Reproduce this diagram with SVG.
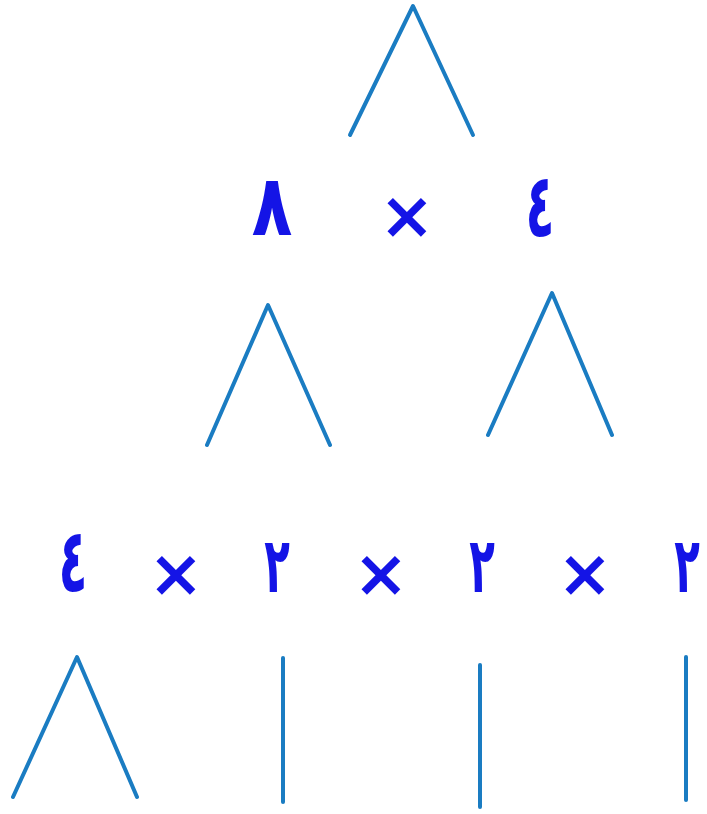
<svg xmlns="http://www.w3.org/2000/svg" width="707" height="814" viewBox="0 0 707 814">
<style>
.ln{fill:none;stroke:#1a7cc2;stroke-width:4;stroke-linecap:round;stroke-linejoin:round}
.d{font-family:"DejaVu Sans",sans-serif;font-weight:bold;font-size:70px;fill:#1414e6;text-anchor:middle}
.x{font-family:"DejaVu Sans",sans-serif;font-weight:bold;font-size:66px;fill:#1414e6;text-anchor:middle}
</style>
<rect width="707" height="814" fill="#ffffff"/>
<g id="connectors">
<polyline class="ln" points="350,135 413,6 473,135"/>
<polyline class="ln" points="207,445 268,305 330,445"/>
<polyline class="ln" points="488,435 552,293 612,435"/>
<polyline class="ln" points="13,797 77,657 137,797"/>
<line class="ln" x1="283" y1="658" x2="283" y2="802"/>
<line class="ln" x1="480" y1="665" x2="480" y2="807"/>
<line class="ln" x1="686" y1="657" x2="686" y2="800"/>
</g>
<g id="row1">
<text id="n8" class="d" transform="translate(272,235) scale(0.95,1.22)">٨</text>
<text id="t1" class="x" x="407" y="238">×</text>
<text id="n4a" class="d" transform="translate(540,237) scale(0.68,1.28)">٤</text>
</g>
<g id="row2">
<text id="n4b" class="d" transform="translate(73,592) scale(0.68,1.28)">٤</text>
<text id="t2" class="x" x="176" y="596">×</text>
<text id="n2a" class="d" transform="translate(277,592) scale(0.6,1.1)">٢</text>
<text id="t3" class="x" x="381" y="596">×</text>
<text id="n2b" class="d" transform="translate(482,592) scale(0.6,1.1)">٢</text>
<text id="t4" class="x" x="585" y="596">×</text>
<text id="n2c" class="d" transform="translate(687,592) scale(0.6,1.1)">٢</text>
</g>
</svg>
